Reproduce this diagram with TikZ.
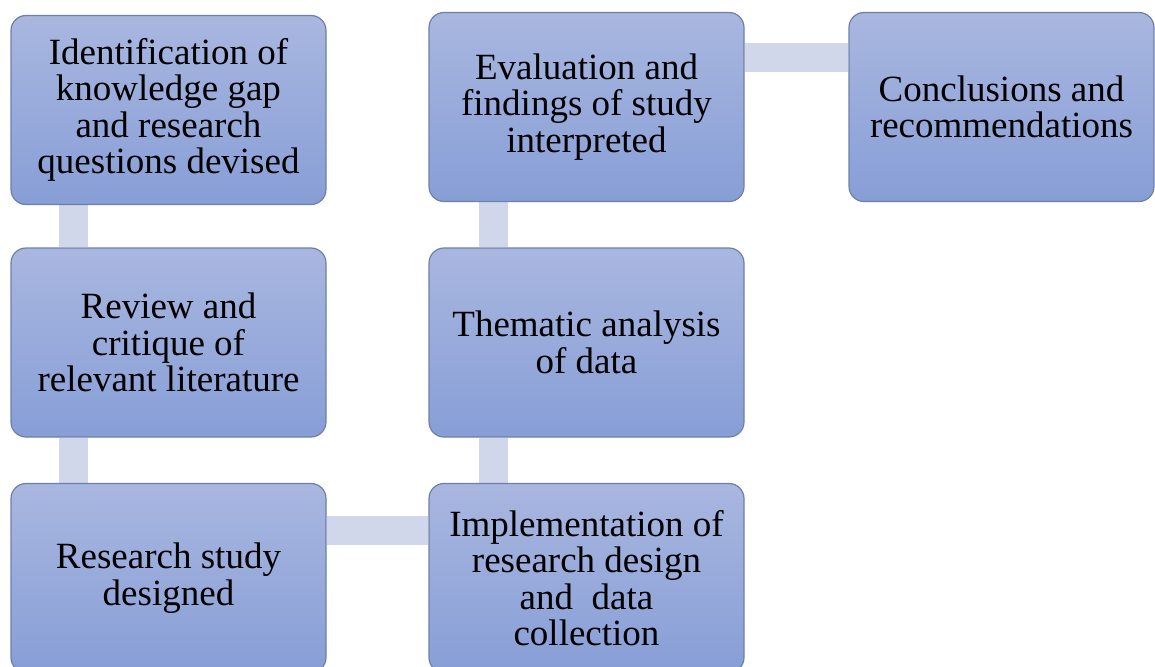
\documentclass[tikz,border=0pt]{standalone}
\usepackage{fontspec}
\setmainfont{Liberation Serif}
\usetikzlibrary{shapes,positioning}
\pgfdeclarelayer{background}
\pgfsetlayers{background,main}
\definecolor{boxtop}{HTML}{A9B7E0}
\definecolor{boxbottom}{HTML}{879ED6}
\definecolor{boxline}{HTML}{6F7FA8}
\definecolor{barfill}{HTML}{D0D7EB}
\tikzstyle{blueblock}=[rectangle, rounded corners=15pt, draw=boxline, line width=1.2pt, align=center, top color=boxtop, bottom color=boxbottom, minimum width=315pt, minimum height=189pt, inner sep=0pt, font=\fontsize{37}{36.5}\selectfont]
\tikzstyle{narrowblock}=[blueblock, minimum width=305pt]
\tikzstyle{bar}=[line width=29pt, draw=barfill, line cap=butt]

\begin{document}
\begin{tikzpicture}[x=1pt, y=-1pt]
\useasboundingbox (0,0) rectangle (1155,666);

\node[blueblock](gap) at (168.5,110) {Identification of \\ knowledge gap \\ and research \\ questions devised};
\node[blueblock](review) at (168.5,342.5) {Review and \\ critique of \\ relevant literature};
\node[blueblock](design) at (168.5,578) {Research study \\ designed};
\node[blueblock](collect) at (586.5,578) {Implementation of \\ research design \\ and~ data \\ collection};
\node[blueblock](thematic) at (586.5,342.5) {Thematic analysis \\ of data};
\node[blueblock](findings) at (586.5,107) {Evaluation and \\ findings of study \\ interpreted};
\node[narrowblock](conclude) at (1001.5,107) {Conclusions and \\ recommendations};

\begin{pgfonlayer}{background}
\draw[bar]([xshift=63.5pt]gap.south west) -- ([xshift=63.5pt]review.north west);
\draw[bar]([xshift=63.5pt]review.south west) -- ([xshift=63.5pt]design.north west);
\draw[bar]([yshift=-47.5pt]design.north east) -- ([yshift=-47.5pt]collect.north west);
\draw[bar]([xshift=65pt]collect.north west) -- ([xshift=65pt]thematic.south west);
\draw[bar]([xshift=65pt]thematic.north west) -- ([xshift=65pt]findings.south west);
\draw[bar]([yshift=-46pt]findings.north east) -- ([yshift=-46pt]conclude.north west);
\end{pgfonlayer}

\end{tikzpicture}
\end{document}
